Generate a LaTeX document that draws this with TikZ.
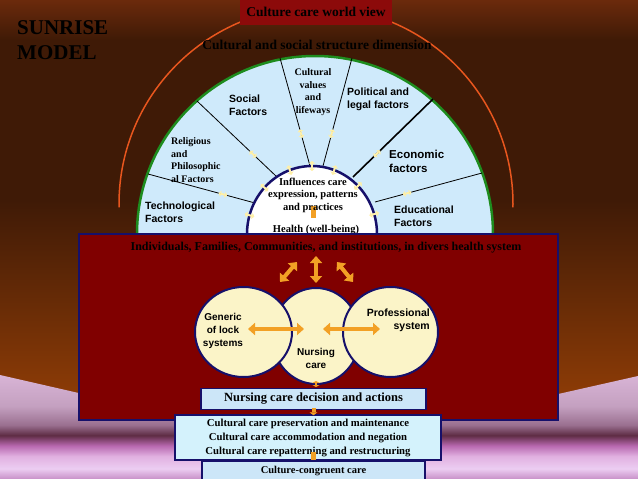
\documentclass[tikz,border=0pt]{standalone}
\usepackage{fontspec}
\setmainfont{Liberation Serif}
\setsansfont{Liberation Sans}
\usetikzlibrary{arrows.meta,calc,shapes.geometric}

\definecolor{bgbrown}{HTML}{3F1A06}
\definecolor{bgtop}{HTML}{6B2A0C}
\definecolor{bgorange}{HTML}{8E3C06}
\definecolor{darkred}{HTML}{800000}
\definecolor{titlered}{HTML}{8C0A0A}
\definecolor{navy}{HTML}{16106A}
\definecolor{skyfill}{HTML}{CFEAFB}
\definecolor{leafgreen}{HTML}{1E8C1E}
\definecolor{sunorange}{HTML}{E8561E}
\definecolor{arrorange}{HTML}{F2A025}
\definecolor{paleyellow}{HTML}{FBF4C8}
\definecolor{tickyellow}{HTML}{FFF0A8}
\definecolor{boxblue}{HTML}{CCE6F8}
\definecolor{boxcyan}{HTML}{D4F2FC}
\definecolor{floorA}{HTML}{C890C8}
\definecolor{floorB}{HTML}{ECCDF2}
\definecolor{floorC}{HTML}{E0B0E0}
\definecolor{floorD}{HTML}{B868B0}
\definecolor{floorE}{HTML}{5E2C44}
\definecolor{floorF}{HTML}{9A7090}
\definecolor{floorG}{HTML}{C4A0C0}
\definecolor{floorH}{HTML}{D8B4D6}
\pgfdeclareverticalshading{floor}{100bp}{color(0bp)=(floorA); color(25bp)=(floorA); color(30bp)=(floorB); color(36bp)=(floorC); color(41bp)=(floorD); color(46bp)=(floorE); color(51bp)=(floorF); color(60bp)=(floorG); color(75bp)=(floorH); color(100bp)=(floorH)}

\begin{document}
\begin{tikzpicture}[x=1pt, y=-1pt,
    serif text/.style={font=\bfseries\fontsize{10}{12.5}\selectfont, align=center, inner sep=0pt, text=black},
    sans text/.style={font=\sffamily\bfseries\fontsize{10.5}{13}\selectfont, align=left, inner sep=0pt, text=black},
    faint text/.style={font=\bfseries\fontsize{13.5}{15}\selectfont, inner sep=0pt, text=black},
    care box/.style={draw=navy, line width=1.5pt, inner sep=0pt},
    care circle/.style={ellipse, draw=navy, line width=2pt, fill=paleyellow, inner sep=0pt},
    big arrow/.style={arrorange, line width=4.5pt, {Triangle[width=12pt,length=7pt]}-{Triangle[width=12pt,length=7pt]}},
    tick mark/.style={tickyellow, line width=2pt, {Triangle[width=6pt,length=2.5pt]}-{Triangle[width=6pt,length=2.5pt]}},
    spoke/.style={black, line width=0.8pt}]
    \useasboundingbox (0,0) rectangle (638,479);
    \fill[bgbrown] (0,0) rectangle (638,479);
    \shade[top color=bgtop, bottom color=bgbrown] (0,0) rectangle (638,40);
    \shade[top color=bgbrown, bottom color=bgorange] (0,200) rectangle (638,400);
    \shade[shading=floor] (0,375) -- (319,448) -- (638,376) -- (638,479) -- (0,479) -- cycle;

    \coordinate (oc) at (316,204);
    \coordinate (sc) at (315,234);
    \coordinate (hc) at (312,234);
    \draw[sunorange, line width=1.5pt] (oc) ++(179:197) arc[start angle=179, end angle=361, radius=197];
    \node[faint text, fill=titlered, minimum width=152pt, minimum height=25pt] (title) at (316,12) {Culture care world view};
    \node[faint text, font=\bfseries\fontsize{21}{25}\selectfont, align=left, anchor=west] (sunrise) at (17,40) {SUNRISE\\MODEL};
    \node[faint text] (dimension) at (317,45) {Cultural and social structure dimension};

    \draw[leafgreen, line width=2.5pt, fill=skyfill] (sc) ++(-178,0) arc[start angle=180, end angle=360, radius=178];

    \coordinate (i1) at (255,203); \coordinate (o1) at (148,174);
    \coordinate (i2) at (277,177); \coordinate (o2) at (197,101);
    \coordinate (i3) at (310,166); \coordinate (o3) at (280,58);
    \coordinate (i4) at (323,166); \coordinate (o4) at (352,58);
    \coordinate (i5) at (353,177); \coordinate (o5) at (433,99);
    \coordinate (i6) at (375,202); \coordinate (o6) at (482,173);
    \foreach \s in {1,2,3,4,6}
        \draw[spoke] (i\s) -- (o\s);
    \draw[spoke, line width=1.6pt] (i5) -- (o5);
    \foreach \s in {1,...,6}
        \draw[tick mark] ($(i\s)!0.3!(o\s)$) coordinate (m\s) ($(m\s)!-4.5pt!(o\s)$) -- ($(m\s)!4.5pt!(o\s)$);

    \draw[navy, line width=2.5pt, fill=white] (hc) ++(-65,0) arc[start angle=180, end angle=360, x radius=65, y radius=68];
    \foreach \a in {196,223,250,270,290,315,343}
        \draw[tick mark] ($(hc)+(\a:60 and 63)$) -- ($(hc)+(\a:70 and 73)$);
    \fill[arrorange] (311,206) rectangle (316,218);

    \node[serif text] (cultval) at (313,92) {Cultural\\values\\and\\lifeways};
    \node[sans text, anchor=west] (social) at (229,105) {Social\\Factors};
    \node[sans text, anchor=west] (political) at (347,99) {Political and\\legal factors};
    \node[serif text, font=\bfseries\fontsize{10}{12.7}\selectfont, align=left, anchor=west] (religious) at (171,160) {Religious\\and\\Philosophic\\al Factors};
    \node[sans text, anchor=west] (techno) at (145,212) {Technological\\Factors};
    \node[sans text, font=\sffamily\bfseries\fontsize{11.5}{14}\selectfont, anchor=west] (economic) at (389,161) {Economic\\factors};
    \node[sans text, anchor=west] (educ) at (394,216) {Educational\\Factors};
    \node[serif text, font=\bfseries\fontsize{10.5}{12.5}\selectfont] (influence) at (313,195) {Influences care\\expression, patterns\\and practices};
    \node[serif text, font=\bfseries\fontsize{10.5}{12.5}\selectfont] (health) at (316,230) {Health (well-being)};

    \node[care box, fill=darkred, minimum width=479pt, minimum height=186pt] (hsystem) at (318.5,327) {};
    \node[serif text, font=\bfseries\fontsize{12}{13}\selectfont] (individuals) at (326,248)
        {Individuals, Families, Communities, and institutions, in divers health system};

    \coordinate (vt) at (316,256); \coordinate (vb) at (316,283);
    \coordinate (lt) at (297,262); \coordinate (lb) at (280,282);
    \coordinate (rt) at (337,262); \coordinate (rb) at (353,282);
    \draw[big arrow] (vt) -- (vb);
    \draw[big arrow, line width=4pt] (lt) -- (lb);
    \draw[big arrow, line width=4pt] (rt) -- (rb);

    \node[care circle, minimum width=88pt, minimum height=96pt] (nursc) at (316,336) {};
    \node[care circle, minimum width=97pt, minimum height=90pt] (genc) at (243.5,332) {};
    \node[care circle, minimum width=95pt, minimum height=90pt] (profc) at (390.5,332) {};
    \node[sans text, font=\sffamily\bfseries\fontsize{10}{13}\selectfont, align=center] (genlab) at (223,331) {Generic\\of lock\\systems};
    \node[sans text, font=\sffamily\bfseries\fontsize{10}{13}\selectfont, align=center] (nurslab) at (316,358) {Nursing\\care};
    \node[sans text, align=right, anchor=east] (proflab) at (430,320) {Professional\\system};

    \coordinate (gl) at (248,329); \coordinate (gr) at (304,329);
    \coordinate (pl) at (323,329); \coordinate (pr) at (380,329);
    \draw[big arrow, line width=4pt] (gl) -- (gr);
    \draw[big arrow, line width=4pt] (pl) -- (pr);

    \coordinate (d1) at (316,381); \coordinate (d2) at (316,387);
    \draw[arrorange, line width=2pt, {Triangle[width=7pt,length=2pt]}-{Triangle[width=7pt,length=2pt]}] (d1) -- (d2);

    \node[care box, fill=boxblue, minimum width=225pt, minimum height=21pt,
          font=\bfseries\fontsize{12.5}{14}\selectfont] (decision) at (313.5,399) {Nursing care decision and actions};
    \node[care box, fill=boxcyan, minimum width=266pt, minimum height=45pt,
          font=\bfseries\fontsize{10.7}{14}\selectfont, align=center] (modes) at (308,437.5)
        {Cultural care preservation and maintenance\\Cultural care accommodation and negation\\Cultural care repatterning and restructuring};
    \node[care box, fill=boxblue, minimum width=223pt, minimum height=21pt,
          font=\bfseries\fontsize{10.5}{12}\selectfont] (congruent) at (313.5,471.5) {Culture-congruent care};

    \draw[arrorange, line width=4pt, -{Triangle[width=8pt,length=3pt]}] (decision.south) ++(0,-2) -- ++(0,7);
    \fill[arrorange] (311,452) rectangle (316,460);
\end{tikzpicture}
\end{document}
